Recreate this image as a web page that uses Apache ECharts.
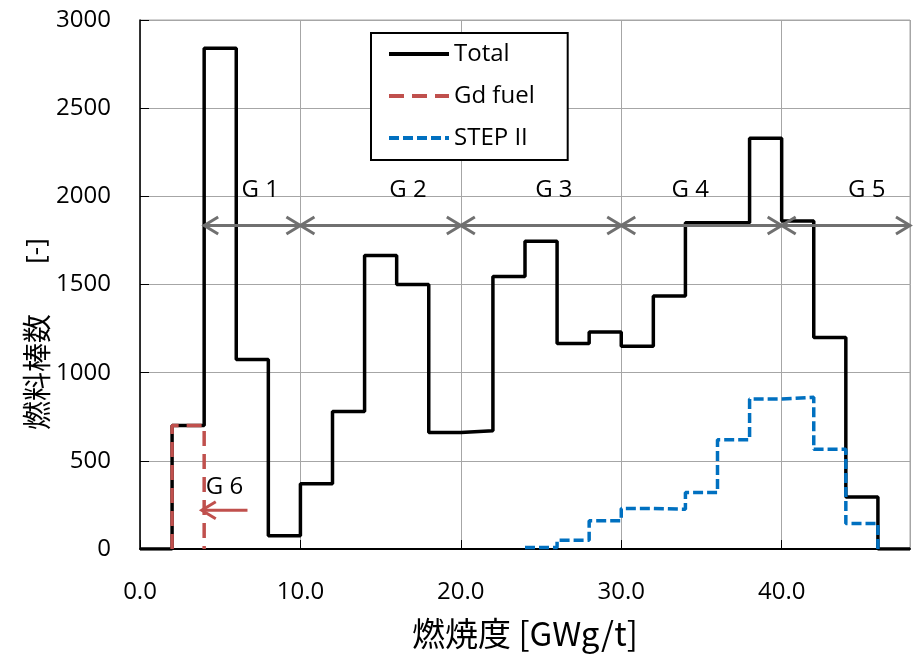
<!DOCTYPE html>
<html>
<head>
<meta charset="utf-8">
<script src="https://cdn.jsdelivr.net/npm/echarts@6/dist/echarts.min.js"></script>
<style>
html,body{margin:0;padding:0;background:#fff;}
#chart{width:914px;height:656px;}
</style>
</head>
<body>
<div id="chart"></div>
<script>
// ---- data ----
const binWidth = 2;
const totalStart = [0,2,4,6,8,10,12,14,16,18,20,22,24,26,28,30,32,34,36,38,40,42,44,46];
const totalValues = [0,700,2840,1075,75,370,780,1665,1500,660,670,1545,1745,1165,1230,1150,1435,1850,1850,2330,1860,1200,295,0];
const gdStart = [2];
const gdValues = [700];
const stepStart = [24,26,28,30,32,34,36,38,40,42,44];
const stepValues = [8,50,160,230,225,320,620,850,860,565,145];

const groupNames = ['G 1','G 2','G 3','G 4','G 5'];
const groupFrom = [4,10,20,30,40];
const groupTo = [10,20,30,40,48];
const groupLabelX = [7.5,16.7,25.8,34.3,45.3];
const groupArrowY = 1835;
const groupLabelY = 2035;

const g6Name = 'G 6';
const g6From = 3.85;
const g6To = 6.7;
const g6ArrowY = 220;
const g6LabelX = 5.27;
const g6LabelY = 350;

const xTicks = [0,10,20,30,40];
const yTicks = [0,500,1000,1500,2000,2500,3000];

// ---- helpers ----
function stepPath(starts, values, opts) {
  const pts = [];
  if (opts && opts.fromZero) pts.push([starts[0], 0]);
  for (let i = 0; i < starts.length; i++) {
    pts.push([starts[i], values[i]]);
    pts.push([starts[i] + binWidth, values[i]]);
  }
  if (opts && opts.toZero) pts.push([starts[starts.length - 1] + binWidth, 0]);
  return pts;
}

const FONT = '"Open Sans", "Noto Sans CJK JP", sans-serif';
const CJK = '"Noto Sans CJK JP", sans-serif';

function chevron(tip, dir, size, h) {
  return [[tip[0] - dir * size, tip[1] - h], tip, [tip[0] - dir * size, tip[1] + h]];
}

function arrowRender(color, both) {
  return function (params, api) {
    const a = api.coord([api.value(0), api.value(2)]);
    const b = api.coord([api.value(1), api.value(2)]);
    const lab = api.coord([api.value(3), api.value(4)]);
    const st = { stroke: color, lineWidth: 3, fill: null };
    const children = [
      { type: 'line', shape: { x1: a[0], y1: a[1], x2: b[0], y2: b[1] }, style: st },
      { type: 'polyline', shape: { points: chevron(a, -1, 14, 8.5) }, style: st }
    ];
    if (both) children.push({ type: 'polyline', shape: { points: chevron(b, 1, 14, 8.5) }, style: st });
    children.push({
      type: 'text', x: lab[0], y: lab[1],
      style: { text: api.value(5), fill: '#000', font: '24px ' + FONT, align: 'center', verticalAlign: 'middle' }
    });
    return { type: 'group', children: children };
  };
}

const groupData = groupNames.map((n, i) => [groupFrom[i], groupTo[i], groupArrowY, groupLabelX[i], groupLabelY, n]);
const g6Data = [[g6From, g6To, g6ArrowY, g6LabelX, g6LabelY, g6Name]];

const chart = echarts.init(document.getElementById('chart'));
chart.setOption({
  backgroundColor: '#fff',
  animation: false,
  grid: { left: 140, right: 4, top: 20, bottom: 107, show: true, borderColor: '#a6a6a6', borderWidth: 1 },
  xAxis: {
    type: 'value', min: 0, max: 48, interval: 10,
    name: '燃焼度 [GWg/t]', nameLocation: 'middle', nameGap: 68,
    nameTextStyle: { fontFamily: CJK, fontSize: 33, color: '#000' },
    axisLine: { lineStyle: { color: '#000', width: 2 } },
    axisTick: { inside: true, length: 9, lineStyle: { color: '#000', width: 1 } },
    axisLabel: { color: '#000', fontFamily: FONT, fontSize: 24, margin: 31, showMaxLabel: false,
      formatter: v => xTicks.indexOf(v) >= 0 ? v.toFixed(1) : '' },
    splitLine: { show: true, lineStyle: { color: '#a6a6a6', width: 1 } }
  },
  yAxis: {
    type: 'value', min: 0, max: 3000, interval: 500,
    axisLine: { show: true, lineStyle: { color: '#000', width: 1.5 } },
    axisTick: { show: true, inside: true, length: 9, lineStyle: { color: '#000', width: 1 } },
    axisLabel: { color: '#000', fontFamily: FONT, fontSize: 24, margin: 29,
      formatter: v => yTicks.indexOf(v) >= 0 ? String(v) : '' },
    splitLine: { show: true, lineStyle: { color: '#a6a6a6', width: 1 } }
  },
  legend: {
    orient: 'vertical', left: 371, top: 33,
    padding: [9, 33, 10, 16], itemGap: 18,
    itemWidth: 60, itemHeight: 16,
    borderColor: '#000', borderWidth: 2, backgroundColor: '#fff',
    itemStyle: { opacity: 0 },
    lineStyle: { width: 4 },
    textStyle: { color: '#000', fontFamily: FONT, fontSize: 24 },
    data: ['Total', 'Gd fuel', 'STEP II']
  },
  graphic: [
    { type: 'text', x: 37, y: 372, rotation: Math.PI / 2, z: 100,
      style: { text: '燃料棒数', font: '29px ' + CJK, fill: '#000', align: 'center', verticalAlign: 'middle' } },
    { type: 'text', x: 37, y: 251, rotation: Math.PI / 2, z: 100,
      style: { text: '[-]', font: '26px ' + FONT, fill: '#000', align: 'center', verticalAlign: 'middle' } }
  ],
  series: [
    { name: 'Total', type: 'line', symbol: 'none', z: 2,
      lineStyle: { color: '#000', width: 3.5 }, itemStyle: { color: '#000' },
      data: stepPath(totalStart, totalValues, {}) },
    { name: 'Gd fuel', type: 'line', symbol: 'none', z: 4,
      lineStyle: { color: '#c0504d', width: 3.5, type: [15, 8] }, itemStyle: { color: '#c0504d' },
      data: stepPath(gdStart, gdValues, { fromZero: true, toZero: true }) },
    { name: 'STEP II', type: 'line', symbol: 'none', z: 3,
      lineStyle: { color: '#0070c0', width: 3.5, type: [10, 4] }, itemStyle: { color: '#0070c0' },
      data: stepPath(stepStart, stepValues, { toZero: true }) },
    { type: 'custom', name: 'groups', z: 5, renderItem: arrowRender('#707070', true),
      encode: { x: [0, 1], y: 2 }, data: groupData, silent: true },
    { type: 'custom', name: 'g6', z: 5, renderItem: arrowRender('#c0504d', false),
      encode: { x: [0, 1], y: 2 }, data: g6Data, silent: true }
  ]
});
</script>
</body>
</html>
